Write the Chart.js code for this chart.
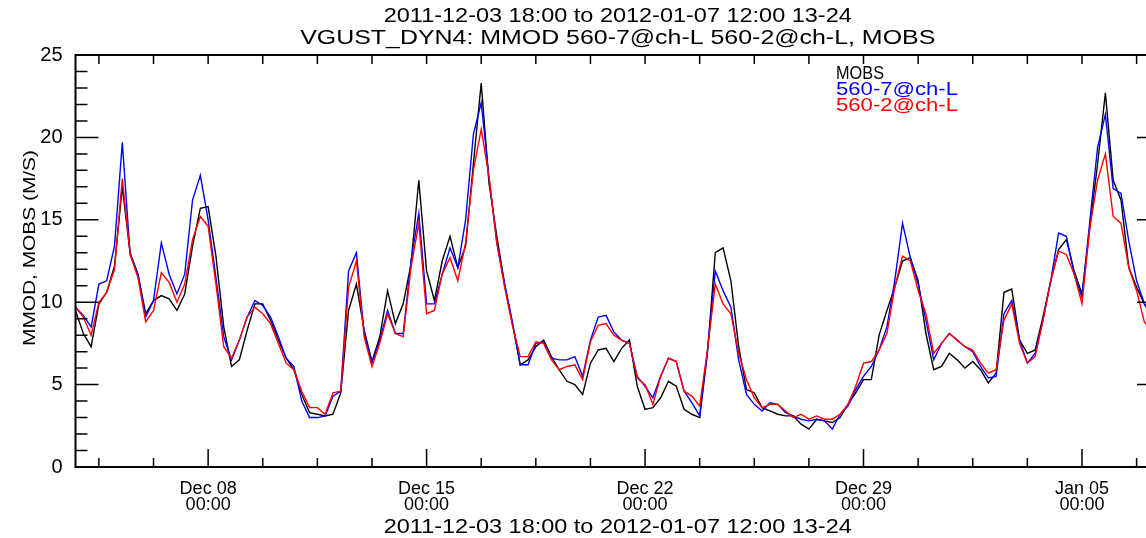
<!DOCTYPE html>
<html>
<head>
<meta charset="utf-8">
<script src="https://cdn.jsdelivr.net/npm/chart.js@4.4.0/dist/chart.umd.min.js"></script>
<style>
html, body { margin: 0; padding: 0; background: #fff; overflow: hidden; }
#wrap { width: 1146px; height: 538px; overflow: hidden; }
canvas { display: block; }
</style>
</head>
<body>
<div id="wrap"><canvas id="myChart" width="1180" height="538"></canvas></div>
<script>
const titleTop = '2011-12-03 18:00 to 2012-01-07 12:00 13-24';
const titleSub = 'VGUST_DYN4: MMOD 560-7@ch-L 560-2@ch-L, MOBS';
const yTitle = 'MMOD, MOBS (M/S)';
const seriesNames = ['MOBS', '560-7@ch-L', '560-2@ch-L'];
const seriesColors = ['#000000', '#0000ff', '#ff0000'];

// one value every 6 h, starting 2011-12-03 18:00
const stepHours = 6;
const mobs = [
  9.5, 8.1, 7.3, 9.9, 10.6, 12.2, 17.0, 13.0, 11.7, 9.3,
  10.1, 10.4, 10.2, 9.5, 10.5, 13.4, 15.7, 15.8, 12.8, 8.5,
  6.1, 6.5, 8.3, 9.9, 9.9, 8.9, 7.7, 6.6, 5.9, 4.4,
  3.3, 3.2, 3.1, 3.2, 4.5, 9.5, 11.1, 8.3, 6.4, 7.9,
  10.7, 8.7, 9.9, 12.3, 17.4, 11.9, 10.1, 12.5, 14.0, 12.1,
  13.4, 18.4, 23.3, 17.2, 14.0, 11.1, 8.7, 6.2, 6.5, 7.3,
  7.7, 6.7, 5.9, 5.2, 5.0, 4.4, 6.3, 7.1, 7.2, 6.4,
  7.2, 7.7, 4.9, 3.5, 3.6, 4.2, 5.2, 4.9, 3.5, 3.2,
  3.0, 6.9, 13.0, 13.3, 11.3, 7.3, 4.7, 4.5, 3.6, 3.4,
  3.2, 3.1, 3.1, 2.6, 2.3, 2.9, 2.8, 2.7, 3.0, 3.8,
  4.5, 5.3, 5.3, 8.0, 9.5, 10.9, 12.5, 12.7, 11.3, 8.1,
  5.9, 6.1, 6.9, 6.5, 6.0, 6.4, 5.9, 5.1, 5.7, 10.6,
  10.8, 7.7, 6.9, 7.1, 9.1, 11.3, 13.2, 13.8, 11.9, 10.5,
  14.5, 18.4, 22.7, 17.4, 16.2, 12.1, 10.9, 9.9, 9.0, 8.5
];
const m560_7 = [
  9.7, 9.2, 8.5, 11.1, 11.3, 13.4, 19.7, 12.9, 11.7, 9.1,
  10.1, 13.6, 11.7, 10.5, 11.7, 16.2, 17.7, 15.0, 11.5, 7.9,
  6.5, 7.7, 9.1, 10.1, 9.8, 9.1, 7.9, 6.6, 6.1, 4.0,
  3.0, 3.0, 3.1, 4.3, 4.6, 11.9, 13.0, 8.1, 6.3, 7.7,
  9.5, 8.1, 8.1, 12.5, 15.4, 9.9, 9.9, 11.7, 13.3, 12.1,
  15.0, 20.2, 22.1, 17.6, 13.6, 11.1, 8.8, 6.2, 6.2, 7.5,
  7.6, 6.6, 6.5, 6.5, 6.7, 5.5, 7.7, 9.1, 9.2, 8.2,
  7.7, 7.5, 5.5, 4.9, 4.2, 5.5, 6.6, 6.4, 4.6, 3.9,
  3.1, 7.1, 11.9, 10.7, 9.7, 6.5, 4.4, 3.8, 3.4, 3.9,
  3.8, 3.3, 3.1, 2.9, 2.8, 2.9, 2.8, 2.3, 3.2, 3.7,
  4.7, 5.5, 6.1, 7.1, 8.5, 11.3, 14.8, 12.7, 11.1, 8.9,
  6.5, 7.5, 8.1, 7.7, 7.3, 7.0, 6.1, 5.4, 5.5, 9.3,
  10.1, 7.7, 6.3, 6.9, 8.9, 11.3, 14.2, 14.0, 11.7, 10.3,
  14.9, 19.4, 21.4, 16.9, 16.6, 13.7, 11.3, 9.9, 9.2, 8.7
];
const m560_2 = [
  9.7, 9.1, 8.0, 10.0, 10.6, 12.0, 17.5, 12.9, 11.5, 8.8,
  9.5, 11.8, 11.2, 10.0, 11.1, 13.8, 15.2, 14.6, 11.1, 7.3,
  6.6, 7.7, 9.1, 9.7, 9.3, 8.7, 7.5, 6.3, 5.9, 4.6,
  3.6, 3.6, 3.2, 4.5, 4.6, 10.9, 12.5, 7.9, 6.1, 7.5,
  9.3, 8.1, 7.9, 12.1, 14.8, 9.3, 9.5, 11.7, 12.7, 11.3,
  13.6, 18.0, 20.5, 17.6, 13.6, 10.9, 8.6, 6.7, 6.7, 7.6,
  7.5, 6.5, 5.9, 6.1, 6.2, 5.3, 7.6, 8.6, 8.7, 8.0,
  7.7, 7.5, 5.4, 5.0, 3.8, 5.5, 6.6, 6.4, 4.6, 4.3,
  3.7, 7.1, 11.1, 9.9, 9.3, 6.9, 5.3, 4.2, 3.6, 3.8,
  3.8, 3.4, 3.0, 3.2, 2.9, 3.1, 2.9, 2.9, 3.2, 3.8,
  4.9, 6.3, 6.4, 7.1, 8.1, 10.9, 12.8, 12.5, 10.7, 9.3,
  6.9, 7.5, 8.1, 7.7, 7.3, 7.1, 6.3, 5.7, 5.9, 8.9,
  9.9, 7.5, 6.3, 6.7, 8.9, 11.3, 13.1, 12.9, 11.7, 9.9,
  14.5, 17.4, 19.0, 15.2, 14.8, 12.1, 10.7, 8.8, 8.2, 7.8
];

// x axis in hours since 2011-12-03 18:00
const xMax = 834;
const xTickHours = [102, 270, 438, 606, 774];
const xTickLabels = [['Dec 08', '00:00'], ['Dec 15', '00:00'], ['Dec 22', '00:00'], ['Dec 29', '00:00'], ['Jan 05', '00:00']];
const xMinorStep = 42;
const yMin = 0, yMax = 25, yStep = 5;

const toPoints = arr => arr.map((v, i) => ({ x: i * stepHours, y: v }));

function stretchText(ctx, text, cx, cy, width, font, color, rotate) {
  ctx.save();
  ctx.font = font;
  ctx.fillStyle = color;
  ctx.textBaseline = 'middle';
  ctx.textAlign = 'left';
  const w = ctx.measureText(text).width;
  ctx.translate(cx, cy);
  if (rotate) ctx.rotate(-Math.PI / 2);
  ctx.scale(width / w, 1);
  ctx.fillText(text, -w / 2, 0);
  ctx.restore();
}

const idlAxes = {
  id: 'idlAxes',
  afterDatasetsDraw(chart) {
    const { ctx, chartArea: a, scales: { x, y } } = chart;
    ctx.save();
    ctx.strokeStyle = '#000';
    ctx.lineWidth = 1.5;
    ctx.beginPath();
    for (let v = yMin; v <= yMax; v++) {
      const py = y.getPixelForValue(v);
      const len = v % yStep === 0 ? 23 : 12;
      ctx.moveTo(a.left, py); ctx.lineTo(a.left + len, py);
      ctx.moveTo(a.right, py); ctx.lineTo(a.right - len, py);
    }
    for (let h = xTickHours[0] % xMinorStep; h <= xMax; h += xMinorStep) {
      const px = x.getPixelForValue(h);
      const major = xTickHours.includes(h);
      ctx.moveTo(px, a.bottom); ctx.lineTo(px, a.bottom - (major ? 18 : 9));
      ctx.moveTo(px, a.top); ctx.lineTo(px, a.top + 9);
    }
    ctx.stroke();
    ctx.lineWidth = 2;
    ctx.strokeRect(a.left, a.top, a.right - a.left, a.bottom - a.top);
    ctx.restore();

    const mid = (a.left + a.right) / 2;
    const f = '20px "Liberation Sans"';
    stretchText(ctx, titleTop, mid, 16, 468, f, '#000');
    stretchText(ctx, titleSub, mid, 38, 635, f, '#000');
    stretchText(ctx, titleTop, mid, 527, 468, f, '#000');
    stretchText(ctx, yTitle, 30, 248, 196, '17px "Liberation Sans"', '#000', true);

    const legW = [48, 122, 122];
    const legY = [74, 90, 106];
    seriesNames.forEach((n, i) => {
      stretchText(ctx, n, 836 + legW[i] / 2, legY[i], legW[i], '18px "Liberation Sans"', seriesColors[i]);
    });
  }
};

const ctx = document.getElementById('myChart');
const data = {
  datasets: [
    { label: seriesNames[0], data: toPoints(mobs), borderColor: seriesColors[0], order: 3 },
    { label: seriesNames[1], data: toPoints(m560_7), borderColor: seriesColors[1], order: 2 },
    { label: seriesNames[2], data: toPoints(m560_2), borderColor: seriesColors[2], order: 1 }
  ]
};
const config = {
  type: 'line',
  data: data,
  plugins: [idlAxes],
  options: {
    responsive: false,
    animation: false,
    layout: { padding: { top: 55, right: 20, left: 0, bottom: 0 } },
    plugins: { legend: { display: false }, tooltip: { enabled: false }, title: { display: false } },
    elements: { point: { radius: 0 }, line: { tension: 0, borderWidth: 1.4, fill: false } },
    scales: {
      x: {
        type: 'linear', min: 0, max: xMax,
        grid: { display: false }, border: { display: false },
        afterBuildTicks: s => { s.ticks = xTickHours.map(v => ({ value: v })); },
        afterFit: s => { s.height = 71; },
        ticks: {
          autoSkip: false, maxRotation: 0, padding: 6, color: '#000',
          font: { family: 'Liberation Sans', size: 18, lineHeight: 0.9 },
          callback: v => xTickLabels[xTickHours.indexOf(v)]
        }
      },
      y: {
        min: yMin, max: yMax,
        grid: { display: false }, border: { display: false },
        afterFit: s => { s.width = 75.5; },
        ticks: { stepSize: yStep, padding: 5, color: '#000', font: { family: 'Liberation Sans', size: 20 } }
      }
    }
  }
};
new Chart(ctx, config);
</script>
</body>
</html>
